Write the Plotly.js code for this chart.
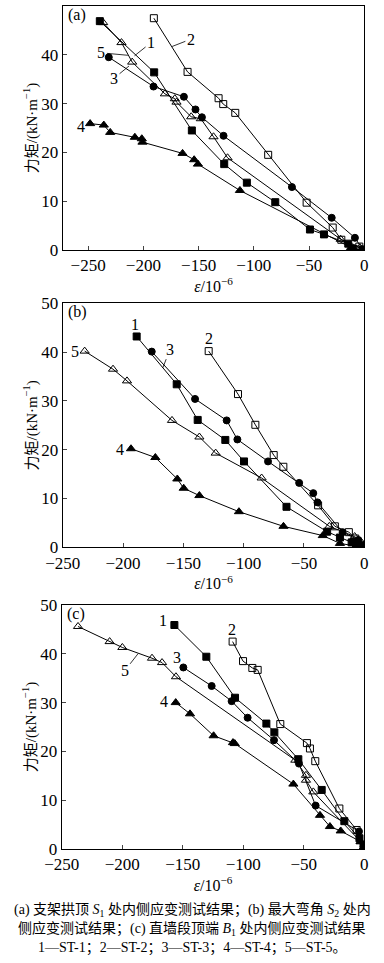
<!DOCTYPE html>
<html><head><meta charset="utf-8">
<script src="https://cdn.plot.ly/plotly-3.0.1.min.js"></script>
<style>body{margin:0;padding:0;background:#fff}#chart{width:384px;height:963px}</style>
</head><body><div id="chart"></div>
<script>
// Panel (a)
const a1x=[-239.4,-190.2,-156.1,-126.8,-106.3,-80.6,-49.2,-36.5,-14.5,-10.6,-1.5];
const a1y=[46.9,36.4,24.5,17.6,13.8,9.8,4.2,3.2,1.3,0.2,0];
const a2x=[-190.5,-160,-131.9,-127.7,-116.8,-87,-52.2,-28.6,-20.8,-4.5,-1];
const a2y=[47.5,36.5,31.1,29.9,28.1,19.5,9.7,4.6,2.1,0.7,0.1];
const a3x=[-231.3,-190.8,-163.3,-152.8,-147,-127.4,-65.5,-29.5,-8.5,-1.5];
const a3y=[39.5,33.5,31.4,28.8,27.2,23.4,12.9,6.6,2.5,0.1];
const a4x=[-248.2,-235.8,-230,-207.7,-201.4,-200.8,-164.5,-154,-150.6,-112.6,-12,-1];
const a4y=[25.9,25.6,24.1,23.1,22.8,22.1,19.8,18.5,17.6,12.2,0.5,0];
const a5x=[-236.4,-219.8,-210.1,-180.5,-171.5,-170,-156.7,-148,-136.5,-123.8,-21.4,-4,-0.5];
const a5y=[46.6,42.5,38.5,32.0,31.0,30.3,27.3,26.9,23.2,18.9,2.2,0.5,0];
// Panel (b)
const b1x=[-188.7,-155.5,-138.1,-115.2,-99.7,-64.5,-30.8,-20.2,-10.5,-6.9,-1.5];
const b1y=[43.2,33.4,26.1,22.0,17.6,8.3,3.2,2.0,1.0,0.7,0.2];
const b2x=[-129,-104.7,-90.3,-75.1,-67.1,-38.3,-24.4,-12.8,-7.5,-1];
const b2y=[40.2,31.4,25.1,18.9,16.5,8.6,4.3,3.1,1.8,0.5];
const b3x=[-176.2,-140.3,-114.1,-105.2,-79.8,-54,-42.3,-38.8,-18,-5,-1];
const b3y=[40.1,30.4,26.0,22.1,17.6,13.2,11.1,9.2,3.1,1.5,0.3];
const b4x=[-193.4,-173.2,-155,-149.7,-136.7,-103.9,-67,-34.4,-20.2,-1];
const b4y=[20.2,18.4,14.0,12.1,10.6,7.3,4.3,2.4,0.8,0];
const b5x=[-231.8,-208.3,-196.7,-159.4,-136.7,-123.2,-85.1,-29,-8,-3,-0.5];
const b5y=[40.2,36.5,34.1,26.0,22.6,19.3,14.2,4.3,2.2,1.2,0.4];
// Panel (c)
const c1x=[-156.9,-130.5,-106.8,-80.9,-74.3,-54.5,-35.2,-16.5,-4,-0.5];
const c1y=[45.9,39.4,31.0,25.7,23.9,18.4,12.1,5.7,2.2,0.5];
const c2x=[-108.8,-100.2,-92.5,-88.1,-69.4,-47.4,-44.9,-40.5,-20.6,-6.3,-0.5];
const c2y=[42.5,38.5,37.1,36.7,25.6,21.7,20.6,18.0,8.3,3.9,0.8];
const c3x=[-149.5,-126.1,-109.6,-96.4,-74.6,-54,-40.2,-4.4,-0.5];
const c3y=[37.2,33.4,30.3,26.9,22.3,17.5,8.9,3.6,0.5];
const c4x=[-155.8,-144,-124.5,-108.5,-107,-58.6,-36.6,-28.4,-19.5,-3,-0.5];
const c4y=[30.0,27.7,23.2,21.8,21.6,13.3,6.9,4.6,3.7,1.5,0.3];
const c5x=[-236.5,-210.4,-199.9,-175.4,-167.1,-155.6,-57,-48.2,-48.2,-42.1,-3,-0.5];
const c5y=[45.6,42.5,41.3,39.1,38.2,35.3,18.2,15.1,14.1,11.7,1.5,0.3];

const seriesNames=['ST-1','ST-2','ST-3','ST-4','ST-5'];
const symbols=['square','square-open','circle','triangle-up','triangle-up-open'];
const panels=[
  {xs:[a1x,a2x,a3x,a4x,a5x], ys:[a1y,a2y,a3y,a4y,a5y], ax:''},
  {xs:[b1x,b2x,b3x,b4x,b5x], ys:[b1y,b2y,b3y,b4y,b5y], ax:'2'},
  {xs:[c1x,c2x,c3x,c4x,c5x], ys:[c1y,c2y,c3y,c4y,c5y], ax:'3'}
];
const traces=[];
panels.forEach(p=>{
  for(let i=0;i<5;i++){
    traces.push({x:p.xs[i], y:p.ys[i], xaxis:'x'+p.ax, yaxis:'y'+p.ax, name:seriesNames[i],
      mode:'lines+markers', line:{color:'#000',width:1},
      marker:{symbol:symbols[i], size:symbols[i].startsWith('triangle')?8:7, color:'#000', line:{color:'#000',width:1}},
      showlegend:false, hoverinfo:'skip'});
  }
});

const FONT='Liberation Serif, Times New Roman, serif';
const CJK='Liberation Serif, Noto Sans CJK SC, serif';
function xax(range){return {domain:[0.1633,0.9487],range:range,dtick:50,tick0:0,ticks:'inside',ticklen:4,
  showline:true,mirror:true,linecolor:'#000',linewidth:1,showgrid:false,zeroline:false,
  tickfont:{family:FONT,size:17,color:'#000'},
  title:{text:'<i>ε</i>/10<sup>−6</sup>',font:{family:FONT,size:16,color:'#000'},standoff:1}};}
function yax(dom){return {domain:dom,range:[0,50],dtick:10,ticks:'inside',ticklen:4,
  showline:true,mirror:true,linecolor:'#000',linewidth:1,showgrid:false,zeroline:false,
  tickfont:{family:FONT,size:17,color:'#000'},
  title:{text:'力矩/(kN·m<sup>−1</sup>)',font:{family:CJK,size:15,color:'#000'},standoff:0}};}

const ann=[];
const LF={family:FONT,size:16,color:'#000'};
function lab(t,ax,x,y){ann.push({text:t,xref:'x'+ax,yref:'y'+ax,x:x,y:y,showarrow:false,font:LF});}
function leader(t,ax,tx,ty,px,py){ann.push({text:t,xref:'x'+ax,yref:'y'+ax,axref:'x'+ax,ayref:'y'+ax,
  x:px,y:py,ax:tx,ay:ty,showarrow:true,arrowhead:0,arrowwidth:0.8,arrowcolor:'#000',standoff:0,font:LF});}
function plab(t,ax){ann.push({text:t,xref:'x'+ax+' domain',yref:'y'+ax+' domain',x:0.01,y:0.965,xanchor:'left',yanchor:'middle',showarrow:false,font:LF});}
plab('(a)','');plab('(b)','2');plab('(c)','3');
// (a)
leader('1','',-193,42.5,-208,39.8);
leader('2','',-157,43.2,-174,41.7);
leader('3','',-226.5,35.2,-213,37.7);
lab('4','',-256,25.3);
leader('5','',-238,40.4,-214,39.9);
// (b)
lab('1','2',-190,45.6);
lab('2','2',-129,42.8);
leader('3','2',-161,40.6,-167,36.8);
lab('4','2',-202.5,20.1);
lab('5','2',-240,40.1);
// (c)
lab('1','3',-166,46.9);
lab('2','3',-109.6,44.9);
lab('3','3',-155,39.3);
lab('4','3',-165.5,30.3);
leader('5','3',-198,36.5,-187,40.0);
// caption
const capFont={family:CJK,size:14,color:'#000'};
ann.push({text:'(a) 支架拱顶 <i>S</i><sub>1</sub> 处内侧应变测试结果；(b) 最大弯角 <i>S</i><sub>2</sub> 处内',xref:'paper',yref:'paper',x:0.5,y:1-910/963,showarrow:false,font:capFont,yanchor:'middle'});
ann.push({text:'侧应变测试结果；(c) 直墙段顶端 <i>B</i><sub>1</sub> 处内侧应变测试结果',xref:'paper',yref:'paper',x:0.5,y:1-929/963,showarrow:false,font:capFont,yanchor:'middle'});
ann.push({text:'1—ST-1；2—ST-2；3—ST-3；4—ST-4；5—ST-5。',xref:'paper',yref:'paper',x:0.5,y:1-948/963,showarrow:false,font:capFont,yanchor:'middle'});

const layout={width:384,height:963,margin:{l:0,r:0,t:0,b:0},paper_bgcolor:'#fff',plot_bgcolor:'#fff',
  xaxis:Object.assign(xax([-273,0]),{anchor:'y'}),
  yaxis:Object.assign(yax([1-250/963,1-6/963]),{anchor:'x'}),
  xaxis2:Object.assign(xax([-250,0]),{anchor:'y2'}),
  yaxis2:Object.assign(yax([1-547.3/963,1-303.3/963]),{anchor:'x2'}),
  xaxis3:Object.assign(xax([-250,0]),{anchor:'y3',domain:[61.7/384,0.9487]}),
  yaxis3:Object.assign(yax([1-849/963,1-605/963]),{anchor:'x3'}),
  annotations:ann};
Plotly.newPlot('chart',traces,layout,{displayModeBar:false,staticPlot:true});
</script></body></html>
